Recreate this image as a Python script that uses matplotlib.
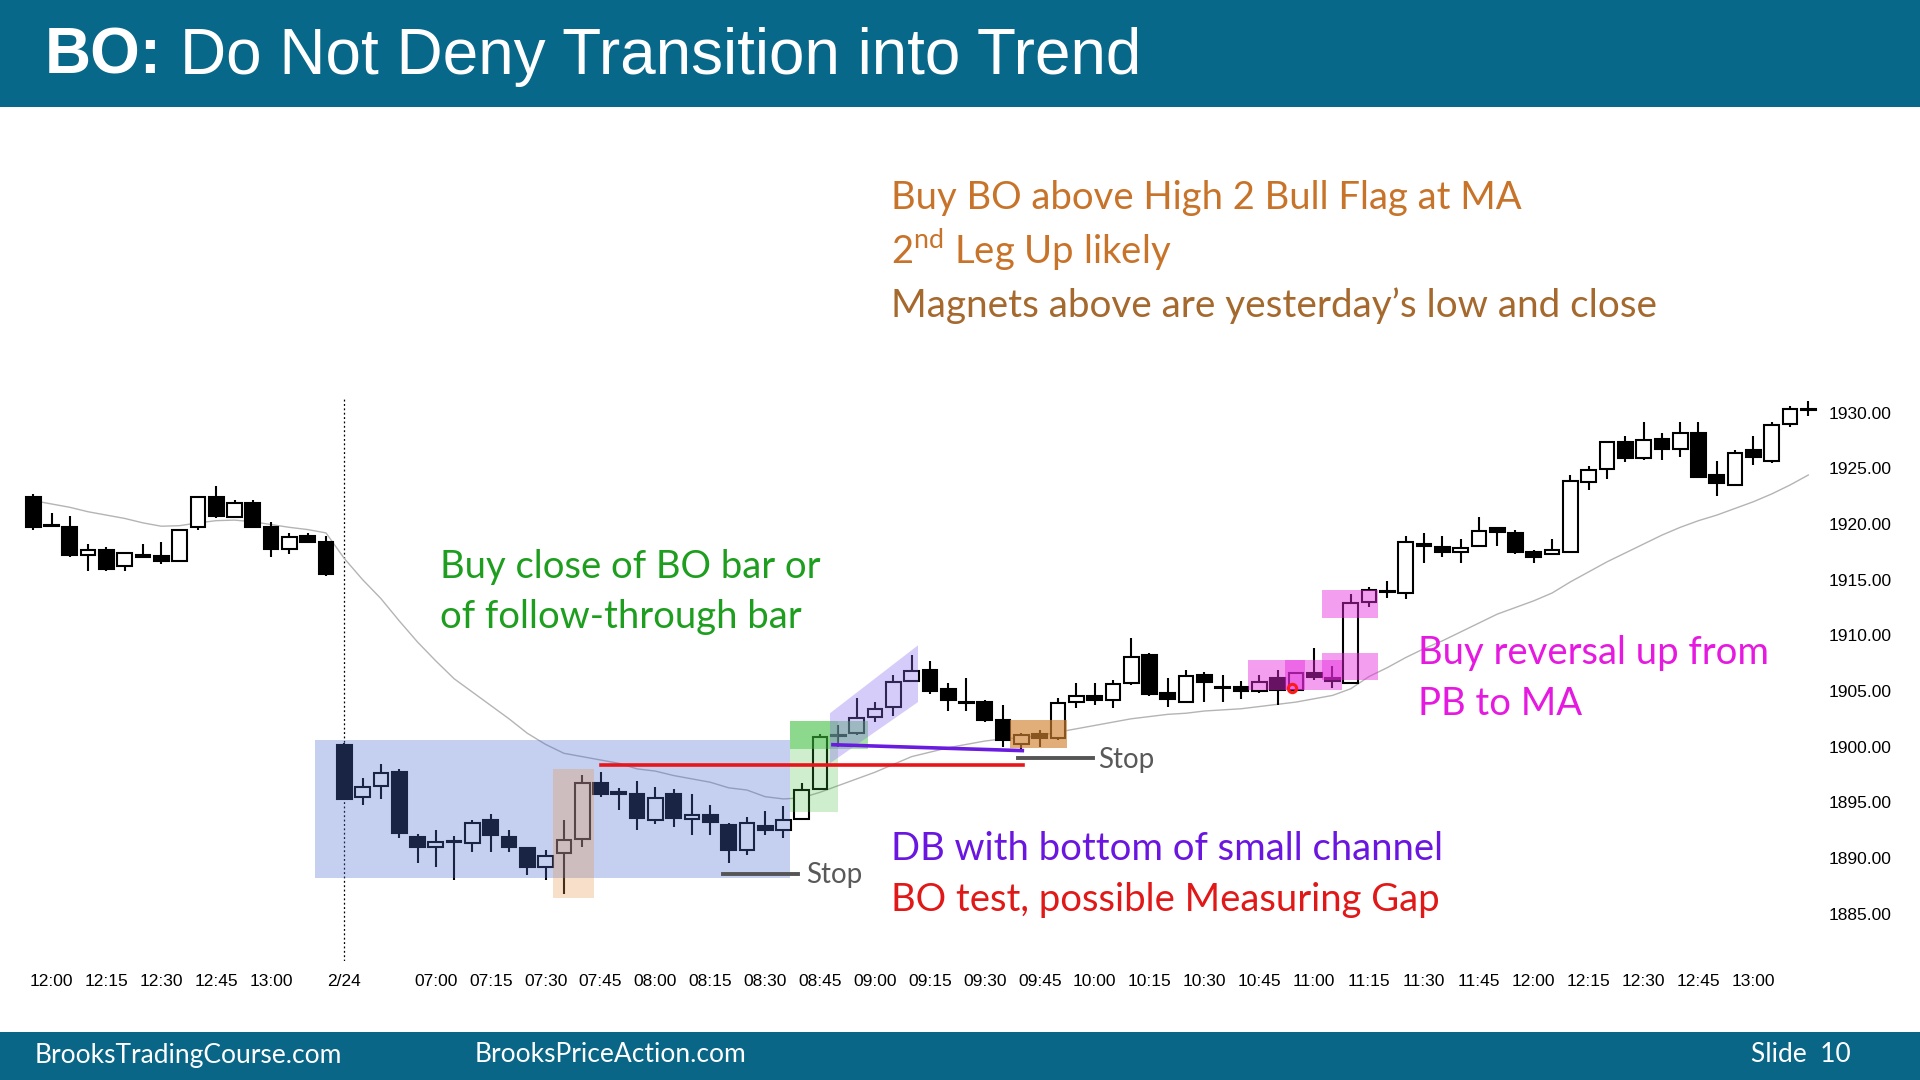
import numpy as np
import pandas as pd
import matplotlib
matplotlib.use("Agg")
import matplotlib.pyplot as plt
from matplotlib.patches import Rectangle, Polygon

plt.rcParams['font.family'] = ['Liberation Sans', 'DejaVu Sans']
plt.rcParams['mathtext.fontset'] = 'custom'
plt.rcParams['mathtext.rm'] = 'Lato'

# 5-minute bars: end of 2/23 session, then 2/24
times = list(pd.date_range("2016-02-23 11:55", "2016-02-23 13:15", freq="5min")) + \
        list(pd.date_range("2016-02-24 06:35", "2016-02-24 13:15", freq="5min"))

opens = [1922.4, 1919.9, 1919.7, 1917.2, 1917.7, 1916.2, 1917.1, 1917.15, 1916.7, 1919.7,
         1922.4, 1920.65, 1921.9, 1919.7, 1917.75, 1918.9, 1918.4,
         1900.15, 1895.5, 1896.5, 1897.7, 1891.9, 1891.0, 1891.45, 1891.3, 1893.45, 1891.9,
         1890.9, 1889.2, 1890.45, 1891.7, 1896.7, 1895.8, 1895.7, 1893.45, 1895.75, 1893.5,
         1893.9, 1892.95, 1890.75, 1892.9, 1892.5, 1893.5, 1896.2, 1901.0, 1901.2, 1902.7,
         1903.6, 1905.9, 1906.9, 1905.15, 1903.95, 1904.0, 1902.4, 1900.25, 1901.1, 1900.75,
         1904.03, 1904.54, 1904.2, 1905.74, 1908.2, 1904.84, 1904.03, 1906.43, 1905.29, 1905.38,
         1904.99, 1906.13, 1905.1, 1906.64, 1906.19, 1905.75, 1913.03, 1913.9, 1913.8, 1918.1,
         1917.9, 1917.46, 1918.03, 1919.61, 1919.22, 1917.46, 1917.31, 1917.46, 1923.74, 1924.94,
         1927.4, 1925.9, 1927.64, 1926.74, 1928.15, 1924.4, 1923.5, 1926.65, 1925.66, 1928.96,
         1930.24]
highs = [1922.7, 1921.0, 1920.7, 1918.2, 1917.9, 1917.5, 1918.2, 1918.4, 1919.55, 1922.4,
         1923.45, 1922.15, 1922.15, 1920.15, 1919.15, 1919.15, 1918.9,
         1900.35, 1897.15, 1898.45, 1897.95, 1892.15, 1892.5, 1891.95, 1893.45, 1893.95, 1892.5,
         1890.9, 1890.7, 1893.45, 1897.45, 1897.7, 1896.25, 1896.9, 1896.4, 1896.15, 1895.7,
         1894.75, 1893.15, 1893.7, 1894.2, 1894.65, 1896.7, 1901.15, 1901.95, 1904.4, 1903.98,
         1906.4, 1908.2, 1907.7, 1905.75, 1906.2, 1904.2, 1903.7, 1901.2, 1901.5, 1904.4,
         1905.7, 1905.7, 1905.98, 1909.72, 1908.4, 1906.19, 1906.88, 1906.67, 1906.43, 1905.89,
         1906.43, 1906.88, 1906.64, 1908.9, 1907.2, 1913.69, 1914.37, 1914.9, 1918.95, 1919.16,
         1918.95, 1918.62, 1920.66, 1919.61, 1919.46, 1917.67, 1918.66, 1924.4, 1925.21, 1927.4,
         1927.94, 1929.2, 1928.15, 1929.14, 1929.2, 1925.69, 1926.65, 1927.91, 1929.14, 1930.63,
         1931.05]
lows = [1919.5, 1919.8, 1917.0, 1915.8, 1915.8, 1915.8, 1917.0, 1916.45, 1916.7, 1919.5,
        1920.5, 1920.5, 1919.7, 1917.0, 1917.3, 1918.25, 1915.3,
        1895.25, 1894.75, 1895.25, 1891.75, 1889.5, 1889.2, 1888.0, 1890.5, 1890.5, 1890.5,
        1888.45, 1888.0, 1886.75, 1890.95, 1895.5, 1894.3, 1892.5, 1893.05, 1892.75, 1892.05,
        1892.05, 1889.5, 1890.25, 1892.05, 1891.75, 1893.5, 1896.2, 1900.0, 1901.05, 1902.25,
        1902.75, 1905.8, 1904.7, 1903.23, 1903.23, 1902.25, 1900.0, 1899.7, 1900.0, 1900.6,
        1903.5, 1903.74, 1903.5, 1905.53, 1904.54, 1903.52, 1904.03, 1904.03, 1904.03, 1904.24,
        1904.78, 1903.74, 1904.9, 1905.98, 1905.24, 1905.75, 1912.52, 1913.33, 1913.3, 1916.53,
        1917.07, 1916.53, 1918.03, 1918.03, 1917.28, 1916.47, 1917.31, 1917.4, 1923.06, 1924.04,
        1925.54, 1925.75, 1925.75, 1926.05, 1924.19, 1922.52, 1923.5, 1925.3, 1925.45, 1928.75,
        1929.73]
closes = [1919.7, 1919.85, 1917.2, 1917.65, 1915.95, 1917.4, 1917.15, 1916.7, 1919.45, 1922.4,
          1920.7, 1921.85, 1919.7, 1917.75, 1918.85, 1918.4, 1915.5,
          1895.3, 1896.4, 1897.65, 1892.2, 1891.0, 1891.4, 1891.5, 1893.1, 1892.05, 1891.0,
          1889.2, 1890.2, 1891.65, 1896.7, 1895.7, 1895.85, 1893.55, 1895.4, 1893.55, 1893.85,
          1893.25, 1890.75, 1893.15, 1892.5, 1893.4, 1896.1, 1900.9, 1901.05, 1902.6, 1903.4,
          1905.85, 1906.8, 1905.0, 1904.2, 1903.95, 1902.4, 1900.6, 1901.05, 1900.8, 1903.9,
          1904.54, 1904.2, 1905.6, 1908.08, 1904.72, 1904.24, 1906.37, 1905.77, 1905.3, 1904.99,
          1905.83, 1905.08, 1906.6, 1906.28, 1905.89, 1912.94, 1914.07, 1913.95, 1918.42, 1918.15,
          1917.52, 1917.82, 1919.4, 1919.25, 1917.46, 1917.07, 1917.67, 1923.9, 1924.85, 1927.4,
          1925.9, 1927.55, 1926.74, 1928.15, 1924.19, 1923.72, 1926.35, 1926.05, 1928.9, 1930.3,
          1930.28]
ma20 = [1922.1, 1921.8, 1921.5, 1921.1, 1920.8, 1920.5, 1920.1, 1919.8, 1919.85, 1920.1,
        1920.3, 1920.35, 1920.2, 1919.95, 1919.7, 1919.5, 1919.2,
        1916.9, 1915.0, 1913.3, 1911.3, 1909.4, 1907.7, 1906.1, 1904.9, 1903.7, 1902.5,
        1901.2, 1900.2, 1899.4, 1899.1, 1898.8, 1898.5, 1898.0, 1897.8, 1897.4, 1897.1,
        1896.8, 1896.3, 1896.1, 1895.5, 1895.3, 1895.4, 1895.9, 1896.5, 1897.1, 1897.7,
        1898.4, 1899.1, 1899.5, 1899.9, 1900.2, 1900.5, 1900.7, 1900.8, 1901.0, 1901.3,
        1901.6, 1901.9, 1902.2, 1902.5, 1902.7, 1902.9, 1903.0, 1903.2, 1903.3, 1903.4,
        1903.6, 1903.8, 1904.0, 1904.3, 1904.6, 1905.2, 1906.3, 1907.1, 1908.0, 1908.8,
        1909.5, 1910.3, 1911.1, 1911.9, 1912.5, 1913.1, 1913.8, 1914.8, 1915.7, 1916.6,
        1917.4, 1918.2, 1919.0, 1919.7, 1920.3, 1920.8, 1921.4, 1922.0, 1922.7, 1923.5,
        1924.4]

xtick_times = ["12:00", "12:15", "12:30", "12:45", "13:00",
               "07:00", "07:15", "07:30", "07:45", "08:00", "08:15", "08:30", "08:45",
               "09:00", "09:15", "09:30", "09:45", "10:00", "10:15", "10:30", "10:45",
               "11:00", "11:15", "11:30", "11:45", "12:00", "12:15", "12:30", "12:45", "13:00"]
price_ticks = [1885, 1890, 1895, 1900, 1905, 1910, 1915, 1920, 1925, 1930]

W, H = 1920, 1080
fig = plt.figure(figsize=(19.2, 10.8), dpi=100)
fig.patch.set_facecolor("white")

# title and footer bands
band = "#08688A"
fig.patches.append(Rectangle((0, 1 - 107 / H), 1, 107 / H, transform=fig.transFigure,
                             facecolor=band, edgecolor="none", zorder=0))
fig.patches.append(Rectangle((0, 0), 1, 48 / H, transform=fig.transFigure,
                             facecolor="#0A6686", edgecolor="none", zorder=0))

ax = fig.add_axes([15 / W, 1 - 961 / H, 1805 / W, 563 / H])
ax.set_facecolor("none")
for s in ax.spines.values():
    s.set_visible(False)

n = len(closes)
idx = np.arange(n)
bw = 0.8
lw = 1.5
for i in idx:
    o, h, l, c = opens[i], highs[i], lows[i], closes[i]
    ax.vlines(i, l, h, color="black", lw=lw, zorder=3)
    lo, hi = min(o, c), max(o, c)
    if hi - lo < 0.12:
        mid = (hi + lo) / 2
        lo, hi = mid - 0.06, mid + 0.06
    fc = "white" if c > o else "black"
    ax.add_patch(Rectangle((i - bw / 2, lo), bw, hi - lo, facecolor=fc,
                           edgecolor="black", lw=lw, zorder=4))

ax.plot(idx, ma20, color="#b4b4b4", lw=1.0, zorder=2)

# day separator
day_start = next(i for i in idx if times[i].date() != times[0].date())
ax.axvline(day_start, color="black", lw=0.9, ls=(0, (1.5, 2)), zorder=1)

# shaded annotation zones (drawn over the bars)
ax.add_patch(Rectangle((15.4, 1888.2), 41.35 - 15.4, 1900.6 - 1888.2,
                       facecolor="#4f6fd0", alpha=0.33, edgecolor="none", zorder=6))
ax.add_patch(Rectangle((28.4, 1886.4), 30.65 - 28.4, 1898.0 - 1886.4,
                       facecolor="#e69650", alpha=0.3, edgecolor="none", zorder=6))
ax.add_patch(Rectangle((41.35, 1894.1), 44.0 - 41.35, 1902.3 - 1894.1,
                       facecolor="#3cbe3c", alpha=0.25, edgecolor="none", zorder=6))
ax.add_patch(Rectangle((41.35, 1899.8), 45.6 - 41.35, 1902.3 - 1899.8,
                       facecolor="#3cbe3c", alpha=0.45, edgecolor="none", zorder=6))
ax.add_patch(Polygon([(43.54, 1898.5), (43.54, 1903.0), (48.35, 1909.1), (48.35, 1904.0)],
                     closed=True, facecolor="#8c6ef0", alpha=0.35, edgecolor="none", zorder=6))
ax.add_patch(Rectangle((53.4, 1899.9), 56.5 - 53.4, 1902.4 - 1899.9,
                       facecolor="#d28232", alpha=0.65, edgecolor="none", zorder=6))
for x0, x1, y0, y1 in [(66.4, 69.5, 1905.05, 1907.8), (68.4, 71.5, 1905.05, 1907.8),
                       (70.4, 73.5, 1906.0, 1908.4), (70.4, 73.5, 1911.6, 1914.1)]:
    ax.add_patch(Rectangle((x0, y0), x1 - x0, y1 - y0, facecolor="#e628dc",
                           alpha=0.45, edgecolor="none", zorder=6))
ax.plot([68.77], [1905.24], marker="o", ms=6, mfc="none", mec="#ff1a1a", mew=2.2, zorder=8)

# lines
ax.plot([31.05, 54.1], [1898.35, 1898.35], color="#e8161b", lw=2.6, zorder=7)
ax.plot([43.7, 54.05], [1900.17, 1899.64], color="#6a1be0", lw=2.6, zorder=7)
ax.plot([53.8, 57.9], [1899.0, 1899.0], color="#555555", lw=2.8, zorder=7)
ax.plot([37.7, 41.8], [1888.55, 1888.55], color="#555555", lw=2.8, zorder=7)

ax.set_xlim(-0.995, 97.64)
ax.set_ylim(1880.74, 1931.32)

# axis ticks
tpos, tlab = [], []
k = 0
for i in idx:
    if i == day_start:
        tpos.append(i)
        tlab.append(f"{times[i].month}/{times[i].day}")
        continue
    if k < len(xtick_times) and times[i].strftime("%H:%M") == xtick_times[k]:
        tpos.append(i)
        tlab.append(xtick_times[k])
        k += 1
ax.set_xticks(tpos)
ax.set_xticklabels(tlab, fontsize=12.5)
ax.set_yticks(price_ticks)
ax.set_yticklabels([f"{p:.2f}" for p in price_ticks], fontsize=12.5)
ax.yaxis.tick_right()
ax.tick_params(axis="both", length=0)
ax.tick_params(axis="y", pad=6)
ax.tick_params(axis="x", pad=9)

# text
def ftext(x, y, s, **kw):
    fig.text(x / W, 1 - y / H, s, va="center", ha="left", **kw)

ftext(45, 57, "BO:", color="white", fontsize=46, fontweight="bold")
ftext(180, 57, "Do Not Deny Transition into Trend", color="white", fontsize=46)

sf = ["Lato", "DejaVu Sans"]
fs = 27.5
ftext(891, 198, "Buy BO above High 2 Bull Flag at MA", color="#c8732a", fontsize=fs, family=sf)
ftext(891, 249, r"2$^{\rm nd}$ Leg Up likely", color="#c8732a", fontsize=fs, family=sf)
ftext(891, 306, "Magnets above are yesterday\u2019s low and close", color="#a5692e",
      fontsize=fs + 0.3, family=sf)
ftext(440, 567, "Buy close of BO bar or", color="#1e9e1e", fontsize=fs, family=sf)
ftext(440, 617, "of follow-through bar", color="#1e9e1e", fontsize=fs, family=sf)
ftext(1418, 653, "Buy reversal up from", color="#e619e0", fontsize=fs, family=sf)
ftext(1418, 704, "PB to MA", color="#e619e0", fontsize=fs, family=sf)
ftext(891, 849, "DB with bottom of small channel", color="#6a16e0", fontsize=fs, family=sf)
ftext(891, 900, "BO test, possible Measuring Gap", color="#e01818", fontsize=fs, family=sf)
ftext(1098, 760, "Stop", color="#595959", fontsize=20, family=sf)
ftext(806, 875, "Stop", color="#595959", fontsize=20, family=sf)

ff = ["Liberation Sans Narrow", "Lato"]
ftext(35, 1055, "BrooksTradingCourse.com", color="white", fontsize=19, family=ff)
ftext(475, 1055, "BrooksPriceAction.com", color="white", fontsize=19, family=ff)
ftext(1751, 1055, "Slide  10", color="white", fontsize=19, family=ff)

fig.savefig("out.png", dpi=100)
